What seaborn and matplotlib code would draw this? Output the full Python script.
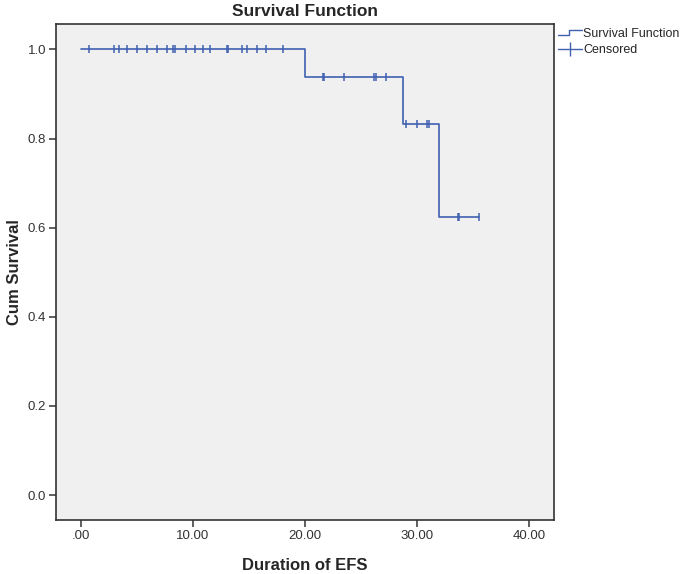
import numpy as np
import pandas as pd
import matplotlib
matplotlib.use("Agg")
import matplotlib.pyplot as plt
from matplotlib.lines import Line2D
from matplotlib.legend_handler import HandlerBase
import seaborn as sns

# step points of the survival function (time, cumulative survival)
step_times = [0.0, 20.0, 28.72, 31.96, 35.51]
step_surv = [1.0, 0.9375, 0.8333, 0.625, 0.625]

# censored times
censored_times = [0.71, 2.97, 3.42, 4.08, 4.97, 5.89, 6.81, 7.71, 8.19, 8.42,
                  9.38, 10.21, 10.87, 11.49, 13.01, 13.15, 14.40, 14.79, 15.69,
                  16.52, 18.06,
                  21.58, 21.67, 23.48, 26.19, 26.34, 27.21,
                  29.02, 29.97, 30.87, 31.04,
                  33.63, 33.75, 35.51]

x_ticks = [0, 10, 20, 30, 40]
x_tick_labels = [".00", "10.00", "20.00", "30.00", "40.00"]
y_ticks = [0.0, 0.2, 0.4, 0.6, 0.8, 1.0]

line_color = "#4060b0"

sns.set_style("white")
plt.rcParams["font.family"] = ["Liberation Sans", "DejaVu Sans"]

steps = pd.DataFrame({"time": step_times, "surv": step_surv})
idx = np.searchsorted(step_times, censored_times, side="right") - 1
cens = pd.DataFrame({"time": censored_times,
                     "surv": np.array(step_surv)[idx]})

fig = plt.figure(figsize=(6.85, 5.74), dpi=100)
ax = fig.add_axes([56 / 685, 1 - 520 / 574, (554 - 56) / 685, (520 - 24) / 574])
ax.set_facecolor("#f0f0f0")

sns.lineplot(data=steps, x="time", y="surv", drawstyle="steps-post",
             color=line_color, lw=1.2, ax=ax)
sns.scatterplot(data=cens, x="time", y="surv", marker="|", s=36,
                color=line_color, linewidth=1.1, ax=ax)

ax.set_xlim(-2.23, 42.23)
ax.set_ylim(-0.056, 1.057)
ax.set_xticks(x_ticks)
ax.set_xticklabels(x_tick_labels)
ax.set_yticks(y_ticks)
ax.set_yticklabels([f"{v:.1f}" for v in y_ticks])
ax.tick_params(axis="both", direction="out", length=5, width=1.1,
               color="#333333", labelsize=9.5, labelcolor="#333333", pad=2,
               bottom=True, left=True)
for s in ax.spines.values():
    s.set_color("#333333")
    s.set_linewidth(1.2)

ax.set_title("Survival Function", fontsize=12.5, fontweight="bold", pad=6)
ax.set_xlabel("Duration of EFS", fontsize=12, fontweight="bold", labelpad=12)
ax.set_ylabel("Cum Survival", fontsize=12, fontweight="bold", labelpad=4)


class StepHandler(HandlerBase):
    def create_artists(self, legend, orig_handle, xdescent, ydescent,
                       width, height, fontsize, trans):
        x0, x1 = -xdescent, -xdescent + width
        ym = height / 2 - ydescent
        xs = [x0, x0 + width * 0.45, x0 + width * 0.45, x1]
        ys = [ym - height * 0.25, ym - height * 0.25, ym + height * 0.35, ym + height * 0.35]
        ln = Line2D(xs, ys, color=line_color, lw=1.0, transform=trans)
        return [ln]


h_step = Line2D([], [], color=line_color)
h_cens = Line2D([], [], color=line_color, lw=1.0, marker="|", markersize=10,
                markeredgewidth=1.0)
ax.legend([h_step, h_cens], ["Survival Function", "Censored"],
          handler_map={h_step: StepHandler()},
          loc="upper left", bbox_to_anchor=(1.0, 1.0), frameon=False,
          fontsize=9, handlelength=1.9, handletextpad=0.1,
          labelspacing=0.3, borderaxespad=0.05, borderpad=0.3)

fig.savefig("out.png", dpi=100)
